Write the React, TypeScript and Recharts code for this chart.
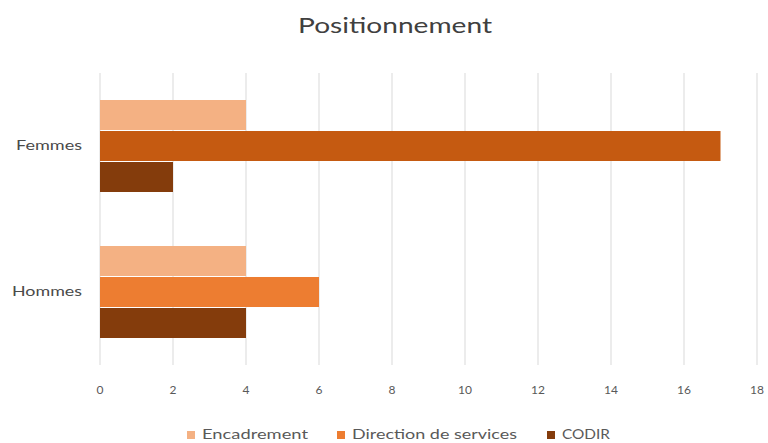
import { BarChart, Bar, XAxis, YAxis, CartesianGrid, Cell } from "recharts";

const categories = ["Femmes", "Hommes"];
const encadrement = [4, 4];
const directionServices = [17, 6];
const codir = [2, 4];
const xTicks = [0, 2, 4, 6, 8, 10, 12, 14, 16, 18];

const seriesNames = ["Encadrement", "Direction de services", "CODIR"];
const seriesColors = ["#F4B183", "#ED7D31", "#843C0C"];
// the Femmes bar of "Direction de services" is drawn darker in the original
const directionCellColors = ["#C55A11", "#ED7D31"];

const chartData = categories.map((name, i) => ({
  name,
  encadrement: encadrement[i],
  direction: directionServices[i],
  codir: codir[i],
}));

const FONT = "Lato, 'Open Sans', sans-serif";

// widths of the stretched text in the original picture
const categoryTextWidth: Record<string, number> = { Femmes: 66, Hommes: 70 };
const legendLayout = [
  { x: 187, textWidth: 106 },
  { x: 337, textWidth: 165 },
  { x: 547, textWidth: 48 },
];

function CategoryTick(props: any) {
  const { x, y, payload } = props;
  return (
    <text
      x={x}
      y={y}
      dy={4}
      textAnchor="end"
      fontSize={13}
      fill="#4a4a4a"
      fontFamily={FONT}
      textLength={categoryTextWidth[payload.value]}
      lengthAdjust="spacingAndGlyphs"
    >
      {payload.value}
    </text>
  );
}

export default function App() {
  return (
    <div
      style={{
        position: "absolute",
        left: 0,
        top: 0,
        width: 768,
        height: 443,
        background: "#fff",
        fontFamily: FONT,
      }}
    >
      <BarChart
        width={768}
        height={443}
        layout="vertical"
        data={chartData}
        margin={{ top: 73, right: 11, bottom: 48, left: 0 }}
        barGap={1}
      >
        <CartesianGrid horizontal={false} stroke="#d9d9d9" />
        <XAxis
          type="number"
          domain={[0, 18]}
          ticks={xTicks}
          axisLine={false}
          tickLine={false}
          tickSize={0}
          tickMargin={20}
          height={30}
          tick={{ fontSize: 12, fill: "#595959", fontFamily: FONT }}
        />
        <YAxis
          type="category"
          dataKey="name"
          width={100}
          axisLine={false}
          tickLine={false}
          tickSize={0}
          tickMargin={18}
          tick={<CategoryTick />}
        />
        <Bar dataKey="encadrement" fill={seriesColors[0]} barSize={30} isAnimationActive={false} />
        <Bar dataKey="direction" fill={seriesColors[1]} barSize={30} isAnimationActive={false}>
          {chartData.map((d, i) => (
            <Cell key={d.name} fill={directionCellColors[i]} />
          ))}
        </Bar>
        <Bar dataKey="codir" fill={seriesColors[2]} barSize={30} isAnimationActive={false} />
      </BarChart>
      <svg
        width={768}
        height={443}
        style={{ position: "absolute", left: 0, top: 0, pointerEvents: "none" }}
      >
        <text
          x={298}
          y={33}
          fontSize={22}
          fill="#404040"
          fontFamily={FONT}
          textLength={194}
          lengthAdjust="spacingAndGlyphs"
        >
          Positionnement
        </text>
        {seriesNames.map((n, i) => (
          <g key={n}>
            <rect x={legendLayout[i].x} y={431} width={8} height={8} fill={seriesColors[i]} />
            <text
              x={legendLayout[i].x + 15}
              y={439}
              fontSize={13}
              fill="#595959"
              fontFamily={FONT}
              textLength={legendLayout[i].textWidth}
              lengthAdjust="spacingAndGlyphs"
            >
              {n}
            </text>
          </g>
        ))}
      </svg>
    </div>
  );
}
